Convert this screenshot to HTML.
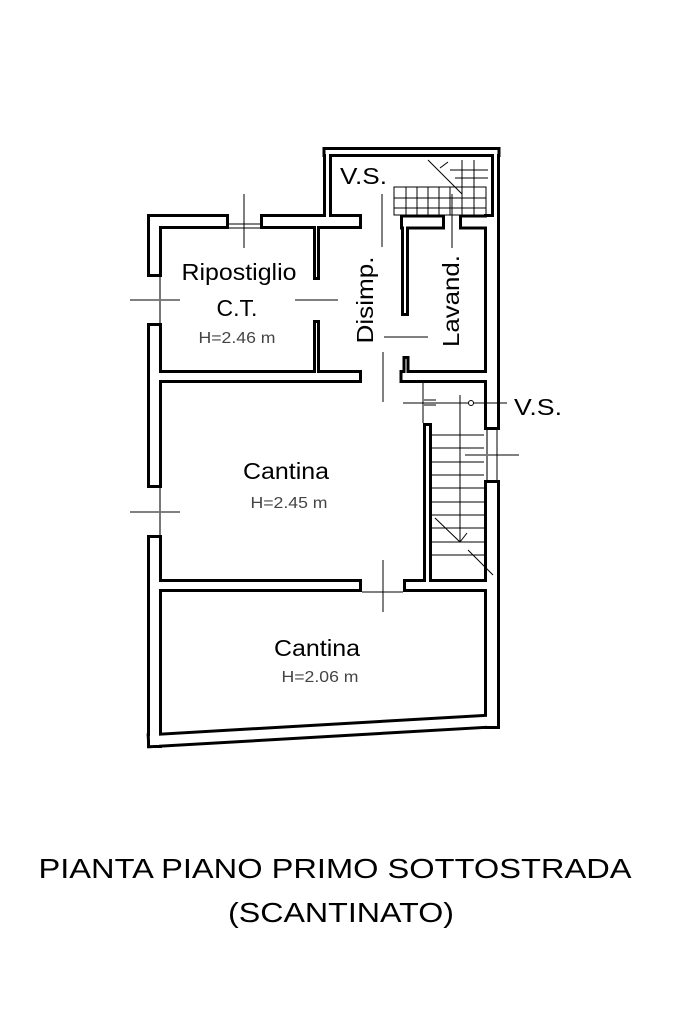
<!DOCTYPE html>
<html><head><meta charset="utf-8"><style>
html,body{margin:0;padding:0;background:#fff;width:683px;height:1025px;overflow:hidden}
svg{display:block}
text{font-family:"Liberation Sans",Arial,sans-serif;fill:#000}
</style></head><body>
<svg id="s" width="683" height="1025" viewBox="0 0 683 1025" xmlns="http://www.w3.org/2000/svg">
<g id="bl"></g><g id="wh"></g>
<g stroke="#000" stroke-width="1" fill="none">
<line x1="229" y1="224" x2="260" y2="224"/><line x1="229" y1="228" x2="260" y2="228"/>
<line x1="244" y1="194" x2="244" y2="248"/>
<line x1="130" y1="300" x2="180" y2="300"/><line x1="160" y1="277" x2="160" y2="323" stroke="#777" stroke-width="2"/>
<line x1="130" y1="512" x2="180" y2="512"/><line x1="160" y1="488" x2="160" y2="535" stroke="#777" stroke-width="2"/>
<line x1="465" y1="455" x2="519" y2="455"/><line x1="487" y1="430" x2="487" y2="480" stroke="#777" stroke-width="2"/>
<line x1="497" y1="430" x2="497" y2="480"/>
<line x1="382" y1="194" x2="382" y2="247"/>
<line x1="452" y1="194" x2="452" y2="248"/>
<line x1="295" y1="300" x2="338" y2="300"/>
<line x1="384" y1="337" x2="428" y2="337"/>
<line x1="383" y1="352" x2="383" y2="402"/>
<line x1="383" y1="560" x2="383" y2="612"/>
<line x1="362" y1="592" x2="403" y2="592"/>
<rect x="394" y="187" width="92" height="28"/>
<line x1="394" y1="198" x2="486" y2="198"/><line x1="394" y1="208" x2="486" y2="208"/>
<line x1="406" y1="187" x2="406" y2="215"/><line x1="417" y1="187" x2="417" y2="215"/>
<line x1="428" y1="187" x2="428" y2="215"/><line x1="439" y1="187" x2="439" y2="215"/>
<line x1="450" y1="187" x2="450" y2="215"/><line x1="462" y1="160" x2="462" y2="215"/>
<line x1="474" y1="160" x2="474" y2="215"/>
<line x1="450" y1="170" x2="488" y2="170"/><line x1="455" y1="178" x2="488" y2="178"/>
<line x1="428" y1="160" x2="462" y2="194"/><line x1="440" y1="168" x2="448" y2="162"/>
<line x1="423" y1="383" x2="423" y2="423"/>
<line x1="403" y1="403" x2="507" y2="403"/>
<circle cx="471" cy="403" r="2.5" fill="#fff"/>
<line x1="424" y1="400" x2="436" y2="400"/><line x1="424" y1="405" x2="436" y2="405"/>
<line x1="460" y1="395" x2="460" y2="542"/>
<g id="steps"></g>
<line x1="435" y1="518" x2="460" y2="542"/><line x1="460" y1="542" x2="467" y2="533"/>
<line x1="468" y1="550" x2="493" y2="575"/>
</g>
<g font-size="23">
<text x="340" y="184" textLength="47" lengthAdjust="spacingAndGlyphs">V.S.</text>
<text x="514" y="415" textLength="48" lengthAdjust="spacingAndGlyphs">V.S.</text>
<text x="239" y="280" text-anchor="middle" textLength="115" lengthAdjust="spacingAndGlyphs">Ripostiglio</text>
<text x="237" y="316" text-anchor="middle">C.T.</text>
<text x="286" y="479" text-anchor="middle" textLength="86" lengthAdjust="spacingAndGlyphs">Cantina</text>
<text x="317" y="656" text-anchor="middle" textLength="86" lengthAdjust="spacingAndGlyphs">Cantina</text>
<text transform="translate(373,300) rotate(-90)" text-anchor="middle" textLength="87" lengthAdjust="spacingAndGlyphs">Disimp.</text>
<text transform="translate(459,301) rotate(-90)" text-anchor="middle" textLength="92" lengthAdjust="spacingAndGlyphs">Lavand.</text>
</g>
<g font-size="16" style="fill:#444">
<text x="237" y="343" text-anchor="middle" textLength="77" lengthAdjust="spacingAndGlyphs" style="fill:#444">H=2.46 m</text>
<text x="289" y="508" text-anchor="middle" textLength="77" lengthAdjust="spacingAndGlyphs" style="fill:#444">H=2.45 m</text>
<text x="320" y="682" text-anchor="middle" textLength="77" lengthAdjust="spacingAndGlyphs" style="fill:#444">H=2.06 m</text>
</g>
<text x="335" y="878" font-size="28" text-anchor="middle" textLength="593" lengthAdjust="spacingAndGlyphs">PIANTA PIANO PRIMO SOTTOSTRADA</text>
<text x="341" y="922" font-size="28" text-anchor="middle" textLength="226" lengthAdjust="spacingAndGlyphs">(SCANTINATO)</text>
</svg>
<script>
var W=[
[154.5,221.5,154.5,277,15,'j','f'],
[154.5,323,154.5,488,15,'f','f'],
[154.5,535,154.5,740.5,15,'f','j'],
[154.5,221.5,229,221.5,15,'j','f'],
[260,221.5,362,221.5,15,'f','f'],
[327.5,152,327.5,221.5,9,'j','j'],
[327.5,152,495.5,152,10,'j','j'],
[495.5,152,495.5,222,9,'j','j'],
[492,222,492,430,16,'j','f'],
[492,480,492,721,16,'f','j'],
[154.5,740.5,492,721,15,'j','j'],
[400,222,445,222,15,'f','f'],
[459,222,492,222,15,'f','j'],
[405,222,405,316,8,'j','f'],
[316.5,221.5,316.5,280,7,'j','f'],
[316.5,320,316.5,376.5,7,'f','j'],
[154.5,376.5,362,376.5,13,'j','f'],
[406,356,406,376.5,7,'f','j'],
[406,376.5,492,376.5,13,'j','j'],
[427.5,423,427.5,585.5,9,'f','j'],
[154.5,585.5,362,585.5,13,'j','f'],
[403,585.5,492,585.5,13,'f','j']
];
var ns="http://www.w3.org/2000/svg",bl=document.getElementById('bl'),wh=document.getElementById('wh');
function ln(g,a,b,c,d,w,col){var l=document.createElementNS(ns,'line');l.setAttribute('x1',a);l.setAttribute('y1',b);l.setAttribute('x2',c);l.setAttribute('y2',d);l.setAttribute('stroke',col);l.setAttribute('stroke-width',w);g.appendChild(l);}
W.forEach(function(s){var x1=s[0],y1=s[1],x2=s[2],y2=s[3],w=s[4];var dx=x2-x1,dy=y2-y1,L=Math.hypot(dx,dy),ux=dx/L,uy=dy/L;
var ww=w-6;
var b1=s[5]=='j'?w/2:0,b2=s[6]=='j'?w/2:0;
var w1=s[5]=='j'?ww/2:-3,w2=s[6]=='j'?ww/2:-3;
ln(bl,x1-ux*b1,y1-uy*b1,x2+ux*b2,y2+uy*b2,w,'#000');
ln(wh,x1-ux*w1,y1-uy*w1,x2+ux*w2,y2+uy*w2,ww,'#fff');});
var st=document.getElementById('steps');
[435,448,462,475,488,502,515,528,542,555].forEach(function(y){ln(st,432,y,484,y,1,'#000');});
</script>
</body></html>
